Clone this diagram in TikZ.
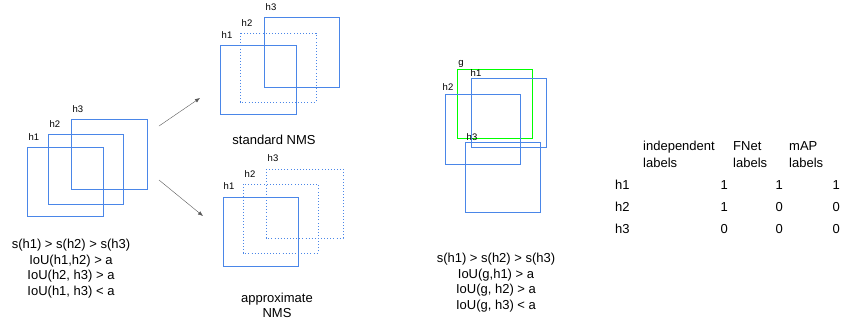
\documentclass[tikz,border=0pt]{standalone}
\usepackage{fontspec}
\setmainfont{Liberation Sans}
\usetikzlibrary{arrows.meta}
\definecolor{boxblue}{HTML}{4A86E8}
\definecolor{gtgreen}{HTML}{00FF00}
\definecolor{arrowgray}{HTML}{595959}

\begin{document}
\begin{tikzpicture}[x=1pt, y=-1pt,
    box/.style={draw=boxblue, line width=0.9pt},
    dotbox/.style={draw=boxblue, line width=0.9pt, dash pattern=on 0.9pt off 2.2pt},
    gtbox/.style={draw=gtgreen, line width=0.9pt},
    lbl/.style={font=\fontsize{9.5}{11}\selectfont, inner sep=0pt},
    txt/.style={font=\fontsize{13}{15.6}\selectfont, align=center, inner sep=0pt},
    tab/.style={font=\fontsize{13}{17}\selectfont, inner sep=0pt}]
    \useasboundingbox (0,0) rectangle (841,325);
    % Caixas de entrada
    \draw[box] (27,147) rectangle (103,216);
    \draw[box] (48,134) rectangle (123,204);
    \draw[box] (71,119) rectangle (147,189);
    \node[lbl] (inh1) at (34,137) {h1};
    \node[lbl] (inh2) at (55,124) {h2};
    \node[lbl] (inh3) at (78,109) {h3};
    \node[txt] (inconds) at (71,268.5)
      {s(h1) > s(h2) > s(h3)\\IoU(h1,h2) > a\\IoU(h2, h3) > a\\IoU(h1, h3) < a};
    % Setas
    \coordinate (upfrom) at (159,126);
    \coordinate (upto) at (200,98);
    \coordinate (downfrom) at (159,180);
    \coordinate (downto) at (203,216);
    \draw[arrowgray, -{Latex[length=5pt, width=4pt]}] (upfrom) -- (upto);
    \draw[arrowgray, -{Latex[length=5pt, width=4pt]}] (downfrom) -- (downto);
    % NMS padrao
    \draw[box] (220,45) rectangle (296,114);
    \draw[dotbox] (240,33) rectangle (316,102);
    \draw[box] (264,17) rectangle (339,87);
    \node[lbl] (sth1) at (227,35) {h1};
    \node[lbl] (sth2) at (247,23) {h2};
    \node[lbl] (sth3) at (271,7) {h3};
    \node[txt] (standard) at (274,140) {standard NMS};
    % NMS aproximado
    \draw[box] (223,197) rectangle (298,266);
    \draw[dotbox] (243,184) rectangle (318,253);
    \draw[dotbox] (266,169) rectangle (343,238);
    \node[lbl] (aph1) at (229,186) {h1};
    \node[lbl] (aph2) at (250,174) {h2};
    \node[lbl] (aph3) at (273,158) {h3};
    \node[txt] (approx) at (277,305.5) {approximate\\NMS};
    % Caixas com ground truth
    \draw[gtbox] (457,69) rectangle (532,138);
    \draw[box] (471,78) rectangle (546,147);
    \draw[box] (445,94) rectangle (520,164);
    \draw[box] (465,142) rectangle (540,212);
    \node[lbl] (gtg) at (461,64) {g};
    \node[lbl] (gth1) at (476,73) {h1};
    \node[lbl] (gth2) at (448,87) {h2};
    \node[lbl] (gth3) at (472,137) {h3};
    \node[txt] (gtconds) at (496,282.5)
      {s(h1) > s(h2) > s(h3)\\IoU(g,h1) > a\\IoU(g, h2) > a\\IoU(g, h3) < a};
    % Tabela
    \node[tab, align=left, anchor=west] (colind) at (643,154.5) {independent\\labels};
    \node[tab, align=left, anchor=west] (colfnet) at (733,154.5) {FNet\\labels};
    \node[tab, align=left, anchor=west] (colmap) at (789,154.5) {mAP\\labels};
    \foreach \r/\y/\a/\b/\c in {h1/185/1/1/1, h2/207/1/0/0, h3/229/0/0/0} {
      \node[tab, anchor=west] (row\r) at (615,\y) {\r};
      \node[tab, anchor=east] (ind\r) at (728,\y) {\a};
      \node[tab, anchor=east] (fnet\r) at (783,\y) {\b};
      \node[tab, anchor=east] (map\r) at (840,\y) {\c};
    }
\end{tikzpicture}
\end{document}
